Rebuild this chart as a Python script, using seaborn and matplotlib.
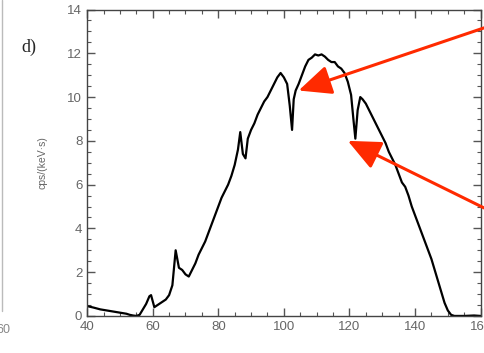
import numpy as np
import pandas as pd
import seaborn as sns
import matplotlib.pyplot as plt
from matplotlib.lines import Line2D
from matplotlib.ticker import MultipleLocator

# Spectrum (energy in keV, rate in cps/(keV s))
energy = [40, 42, 44, 46, 48, 50, 52, 53, 54, 55, 56, 57, 58, 59, 59.5, 60.5,
          61.5, 63, 64, 65, 66, 66.5, 67, 67.5, 68, 69, 70, 71, 72, 73, 74, 75,
          76, 77, 78, 79, 80, 81, 82, 83, 84, 85, 86, 86.7, 87.5, 88.3, 89, 90,
          91, 92, 93, 94, 95, 96, 97, 98, 99, 100, 101, 101.8, 102.5, 103,
          103.6, 104.5, 105.5, 106.5, 107.5, 108.5, 109.5, 110.5, 111.5, 112.5,
          113.5, 114.5, 115.5, 116.5, 117.5, 118.5, 119.5, 120.5, 121.2, 121.8,
          122.5, 123.3, 124, 125, 126, 127, 128, 129, 130, 131, 132, 133, 134,
          135, 136, 137, 138, 139, 140, 141, 142, 143, 144, 145, 146, 147, 148,
          149, 150, 151, 152, 155, 158, 160]
rate = [0.45, 0.38, 0.3, 0.25, 0.2, 0.15, 0.1, 0.05, 0.02, 0.0, 0.05, 0.3,
        0.55, 0.9, 0.95, 0.4, 0.5, 0.65, 0.75, 0.95, 1.4, 2.2, 3.0, 2.6, 2.2,
        2.1, 1.9, 1.8, 2.1, 2.4, 2.8, 3.1, 3.4, 3.8, 4.2, 4.6, 5.0, 5.4, 5.7,
        6.0, 6.4, 6.9, 7.6, 8.4, 7.4, 7.2, 8.1, 8.5, 8.8, 9.2, 9.5, 9.8, 10.0,
        10.3, 10.6, 10.9, 11.1, 10.9, 10.6, 9.6, 8.5, 9.9, 10.3, 10.6, 11.0,
        11.4, 11.7, 11.8, 11.95, 11.9, 11.95, 11.85, 11.7, 11.6, 11.6, 11.4,
        11.3, 11.1, 10.7, 10.1, 9.0, 8.1, 9.4, 10.0, 9.9, 9.7, 9.4, 9.1, 8.8,
        8.5, 8.2, 7.9, 7.5, 7.2, 6.9, 6.5, 6.1, 5.9, 5.5, 5.0, 4.6, 4.2, 3.8,
        3.4, 3.0, 2.6, 2.1, 1.6, 1.1, 0.6, 0.25, 0.05, 0.0, 0.0, 0.02, 0.0]

x_ticks = [40, 60, 80, 100, 120, 140, 160]
y_ticks = [0, 2, 4, 6, 8, 10, 12, 14]

# arrows point at the two absorption dips
arrow_tips = [(104.5, 10.3), (119.5, 8.0)]
arrow_tails = [(1.0, 0.921), (1.0, 0.411)]

df = pd.DataFrame({'energy': energy, 'rate': rate})

sns.set_style('ticks')
plt.rcParams['font.family'] = ['Liberation Sans', 'DejaVu Sans']

fig = plt.figure(figsize=(4.84, 3.53), dpi=100)
ax = fig.add_axes([0.18, 0.105, 0.813, 0.868])

sns.lineplot(data=df, x='energy', y='rate', color='black', lw=1.6, ax=ax)

ax.set_xlim(40, 160)
ax.set_ylim(0, 14)
ax.set_xticks(x_ticks)
ax.set_yticks(y_ticks)
ax.xaxis.set_minor_locator(MultipleLocator(5))
ax.yaxis.set_minor_locator(MultipleLocator(0.5))
ax.tick_params(which='both', direction='in', top=True, right=True,
               color='#555555', labelsize=9.5, labelcolor='#666666')
ax.tick_params(which='major', length=6, width=1.0)
ax.tick_params(which='minor', length=3, width=0.8)
for s in ax.spines.values():
    s.set_color('#444444')
    s.set_linewidth(1.0)

ax.set_xlabel('')
ax.set_ylabel('cps/(keV·s)', fontsize=7.5, color='#666666', labelpad=14)

for tip, tail in zip(arrow_tips, arrow_tails):
    ax.annotate('', xy=tip, xycoords='data', xytext=tail,
                textcoords='figure fraction', annotation_clip=False,
                arrowprops=dict(arrowstyle='-|>,head_length=1.0,head_width=0.45',
                                color='#ff2a00', lw=2.2, mutation_scale=20,
                                shrinkA=0, shrinkB=0))

fig.text(0.06, 0.865, 'd)', fontsize=13, family='Liberation Serif',
         ha='center', va='center')

# edge of the neighbouring panel (cut off in the original too)
fig.add_artist(Line2D([0.005, 0.005], [0.12, 1.0], color='#bbbbbb', lw=1.0))
fig.text(0.008, 0.065, '60', fontsize=9, color='#888888', ha='center', va='center')

fig.savefig('out.png', dpi=100)
